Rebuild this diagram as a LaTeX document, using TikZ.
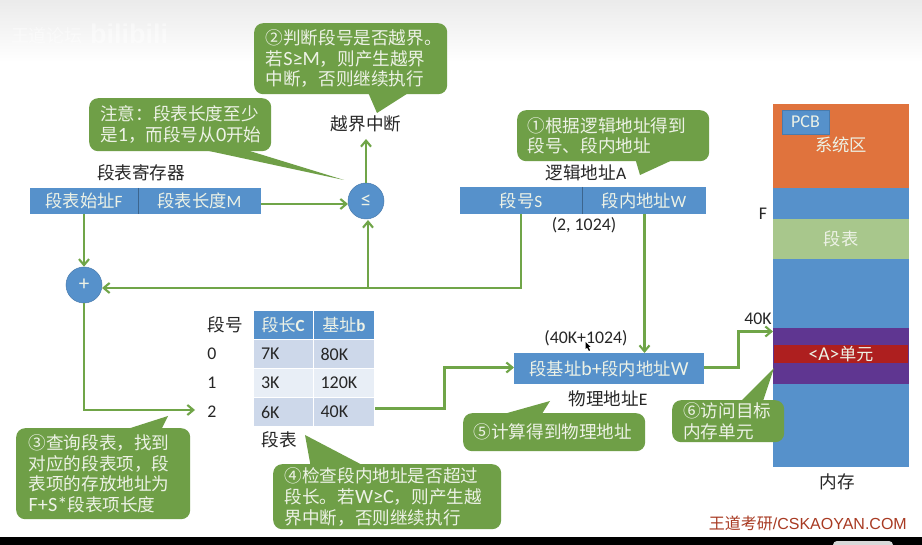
\documentclass[tikz,border=0pt]{standalone}
\usepackage{fontspec}
\setmainfont{Noto Sans CJK SC}
\newfontfamily\latinface{Carlito}
\newfontfamily\tipface[Scale=1.15]{Carlito}
\newfontfamily\markface{Liberation Sans}
\newcommand{\la}[1]{{\latinface #1}}
\newcommand{\lt}[1]{{\tipface #1}}
\usetikzlibrary{arrows.meta,calc}
\definecolor{boxblue}{HTML}{5691CB}
\definecolor{tipgreen}{HTML}{6F9F47}
\definecolor{linkgreen}{HTML}{70A548}
\definecolor{sysorange}{HTML}{E0733D}
\definecolor{tablegreen}{HTML}{A8C78C}
\definecolor{unitpurple}{HTML}{5F3691}
\definecolor{unitred}{HTML}{AE1F1F}
\definecolor{rowdark}{HTML}{CDD8EA}
\definecolor{rowlight}{HTML}{E8EEF6}
\definecolor{softwhite}{HTML}{EDF2E6}
\definecolor{inktext}{HTML}{262626}
\definecolor{brandred}{HTML}{A83A22}
\tikzset{
  x=1pt,y=-1pt,
  link/.style={draw=linkgreen,line width=2.3pt,-{Straight Barb[length=6pt,width=10pt,line width=2.1pt]},line join=miter},
  tipbox/.style={fill=tipgreen,rounded corners=9pt,text=softwhite,align=left,inner sep=0pt,anchor=north west,
    font=\fontsize{17.6pt}{20.8pt}\selectfont},
  tiptail/.style={fill=tipgreen},
  cell/.style={fill=boxblue,text=softwhite,inner sep=0pt,font=\fontsize{17.3pt}{20pt}\selectfont},
  label/.style={text=inktext,inner sep=0pt,font=\fontsize{17.6pt}{20pt}\selectfont},
  num/.style={text=inktext,inner sep=0pt,font=\latinface\fontsize{17.8pt}{20pt}\selectfont},
  opnode/.style={circle,fill=boxblue,draw=boxblue!85!black,line width=0.5pt,minimum size=36pt,inner sep=0pt,text=softwhite,font=\latinface\fontsize{21pt}{22pt}\selectfont},
  tblhead/.style={fill=boxblue,draw=white,line width=1pt,text=softwhite,inner sep=0pt,minimum height=29pt,font=\fontsize{17pt}{20pt}\selectfont},
  tblcell/.style={inner sep=0pt,draw=white,line width=1pt,text=inktext,minimum height=29pt,text depth=0pt,font=\latinface\fontsize{18pt}{20pt}\selectfont},
}
\begin{document}
\begin{tikzpicture}
\useasboundingbox (0,0) rectangle (922,545);
\fill[white] (0,0) rectangle (922,545);
\shade[top color=black!8,bottom color=white] (0,0) rectangle (922,62);

% faint channel marks in the top corner
\node[text=white,opacity=0.45,font=\fontsize{18pt}{20pt}\selectfont,inner sep=0pt] (markA) at (47,36) {王道论坛};
\node[text=white,opacity=0.45,font=\markface\bfseries\fontsize{27pt}{28pt}\selectfont,inner sep=0pt] (markB) at (129,34) {bilibili};

% lower edge of the frame
\fill[black] (0,537) rectangle (922,545);
\fill[black!15,rounded corners=4pt] (833,541) rectangle (893,549);
\node[text=brandred,inner sep=0pt,anchor=east,font=\fontsize{16pt}{18pt}\selectfont] (brand) at (907,523) {王道考研\markface /CSKAOYAN.COM};

% segment table register
\node[cell,minimum width=108pt,minimum height=26pt] (regF) at (84,201) {段表始址\la{F}};
\node[cell,minimum width=123pt,minimum height=26pt] (regM) at (199.5,201) {段表长度\la{M}};
\draw[boxblue!70!black,line width=0.5pt] (regF.north east) -- (regF.south east);
\node[label] (regTitle) at (141,173) {段表寄存器};

% comparator and adder
\node[opnode] (cmp) at (366,201) {≤};
\node[opnode] (plus) at (84,285) {+};
\node[label] (trap) at (366,124) {越界中断};

% logical address
\node[cell,minimum width=122pt,minimum height=27pt] (segS) at (521,200.5) {段号\la{S}};
\node[cell,minimum width=124pt,minimum height=27pt] (segW) at (644,200.5) {段内地址\la{W}};
\draw[boxblue!70!black,line width=0.5pt] (segS.north east) -- (segS.south east);
\node[label] (logTitle) at (586,173) {逻辑地址\la{A}};
\node[num] (logVal) at (584,225) {(2, 1024)};

% physical address
\node[cell,minimum width=190pt,minimum height=31pt] (phys) at (609,368.5) {段基址\lt{b+}段内地址\lt{W}};
\node[num] (physVal) at (586,338) {(40K+1024)};
\node[label] (physTitle) at (608,399) {物理地址\la{E}};
\fill[black] (585.5,342) -- (585.5,349) -- (587,347.5) -- (589,351) -- (590,350.3) -- (588.5,347) -- (590.5,347) -- cycle;

% segment table
\node[label] (hNo) at (225,325) {段号};
\node[tblhead,minimum width=60pt] (hC) at (283,325) {段长\la{\bfseries C}};
\node[tblhead,minimum width=61pt] (hB) at (344,325) {基址\la{\bfseries b}};
\foreach \nm/\yy/\col/\no/\cc/\bb in {0/354/rowdark/0/7K/80K,1/383/rowlight/1/3K/120K,2/412/rowdark/2/6K/40K}{
  \node[num] (no\nm) at (212,\yy) {\no};
  \node[tblcell,fill=\col,minimum width=60pt,text width=44pt,align=left] (c\nm) at (283,\yy) {\cc};
  \node[tblcell,fill=\col,minimum width=61pt,text width=47pt,align=left] (b\nm) at (344,\yy) {\bb};
}
\node[label] (tblTitle) at (279,440) {段表};

% main memory column
\node[fill=boxblue,minimum width=136pt,minimum height=363pt,inner sep=0pt,anchor=north west] (mem) at (773,104) {};
\node[fill=sysorange,minimum width=136pt,minimum height=84pt,inner sep=0pt,anchor=north west] (sys) at (773,104) {};
\node[fill=boxblue,draw=boxblue!85!black,line width=0.5pt,minimum width=47pt,minimum height=24pt,inner sep=0pt,text=softwhite,font=\latinface\fontsize{18pt}{18pt}\selectfont] (pcb) at (805.5,122) {PCB};
\node[text=softwhite,inner sep=0pt,font=\fontsize{17.3pt}{20pt}\selectfont] (sysText) at (841,145) {系统区};
\node[fill=tablegreen,minimum width=136pt,minimum height=40pt,inner sep=0pt,text=softwhite,font=\fontsize{17.3pt}{20pt}\selectfont] (segTable) at (841,239) {段表};
\node[fill=unitpurple,minimum width=136pt,minimum height=56pt,inner sep=0pt,anchor=north west] (target) at (773,328) {};
\node[fill=unitred,minimum width=134pt,minimum height=18pt,inner sep=0pt,text=softwhite,font=\fontsize{17pt}{18pt}\selectfont] (unit) at (841,354) {\lt{<A>}单元};
\node[num] (labF) at (763,214) {F};
\node[num] (lab40) at (758,319) {40K};
\node[label] (memTitle) at (837,482) {内存};

% address flow
\coordinate (mOut) at (261,204);
\coordinate (mIn) at (348,204);
\draw[link] (mOut) -- (mIn);
\draw[link] (regF.south) -- (plus.north);
\draw[link] (cmp.north) -- (trap.south |- 0,139);
\coordinate (sOut) at (521,214);
\coordinate (sTurn) at (521,288);
\coordinate (plusIn) at (102,288);
\draw[link] (sOut) -- (sTurn) -- (plusIn);
\coordinate (cmpFoot) at (368,288);
\coordinate (cmpIn) at (368,220);
\draw[link] (cmpFoot) -- (cmpIn);
\coordinate (wOut) at (644.5,214);
\coordinate (wIn) at (644.5,353);
\draw[link] (wOut) -- (wIn);
\coordinate (noIn) at (195,410);
\draw[link] (plus.south) -- (84,410) -- (noIn);
\coordinate (bOut) at (375,408.5);
\coordinate (bTurnA) at (444.5,408.5);
\coordinate (bTurnB) at (444.5,367.5);
\coordinate (physIn) at (514,367.5);
\draw[link] (bOut) -- (bTurnA) -- (bTurnB) -- (physIn);
\coordinate (physOut) at (704,367.5);
\coordinate (pTurnA) at (738.5,367.5);
\coordinate (pTurnB) at (738.5,331.5);
\coordinate (memIn) at (773,331.5);
\draw[link] (physOut) -- (pTurnA) -- (pTurnB) -- (memIn);

% explanatory callouts
\fill[tiptail] (367,90) -- (413,90) -- (377,113) -- cycle;
\node[tipbox,minimum width=193pt,minimum height=71pt] (tipTwo) at (254,23) {\hspace{10pt}\parbox[c][71pt][c]{180pt}{②判断段号是否越界。\\若\lt{S≥M}，则产生越界\\中断，否则继续执行}};

\fill[tiptail] (195,148) -- (240,148) -- (344,180) -- cycle;
\node[tipbox,minimum width=182pt,minimum height=53pt] (tipNote) at (89,98) {\hspace{10pt}\parbox[c][53pt][c]{170pt}{注意：段表长度至少\\是\lt{1}，而段号从\lt{0}开始}};

\fill[tiptail] (635,158) -- (677,158) -- (640,175) -- cycle;
\node[tipbox,minimum width=192pt,minimum height=51pt] (tipOne) at (517,110) {\hspace{9pt}\parbox[c][51pt][c]{180pt}{①根据逻辑地址得到\\段号、段内地址}};

\fill[tiptail] (118,432) -- (160,432) -- (168,416) -- cycle;
\node[tipbox,minimum width=174pt,minimum height=91pt] (tipThree) at (16,428) {\hspace{11pt}\parbox[c][91pt][c]{160pt}{③查询段表，找到\\对应的段表项，段\\表项的存放地址为\\\lt{F+S*}段表项长度}};

\fill[tiptail] (311,468) -- (368,468) -- (305,435) -- cycle;
\node[tipbox,minimum width=228pt,minimum height=65pt] (tipFour) at (273,464) {\hspace{10pt}\parbox[c][65pt][c]{215pt}{④检查段内地址是否超过\\段长。若\lt{W≥C}，则产生越\\界中断，否则继续执行}};

\fill[tiptail] (493,417) -- (540,417) -- (550,401) -- cycle;
\node[tipbox,minimum width=182pt,minimum height=38pt] (tipFive) at (463,413) {\hspace{9pt}\parbox[c][38pt][c]{170pt}{⑤计算得到物理地址}};

\fill[tiptail] (738,404) -- (762,404) -- (774,368) -- cycle;
\node[tipbox,minimum width=112pt,minimum height=42pt] (tipSix) at (672,400) {\hspace{10pt}\parbox[c][42pt][c]{100pt}{⑥访问目标\\内存单元}};
\end{tikzpicture}
\end{document}
